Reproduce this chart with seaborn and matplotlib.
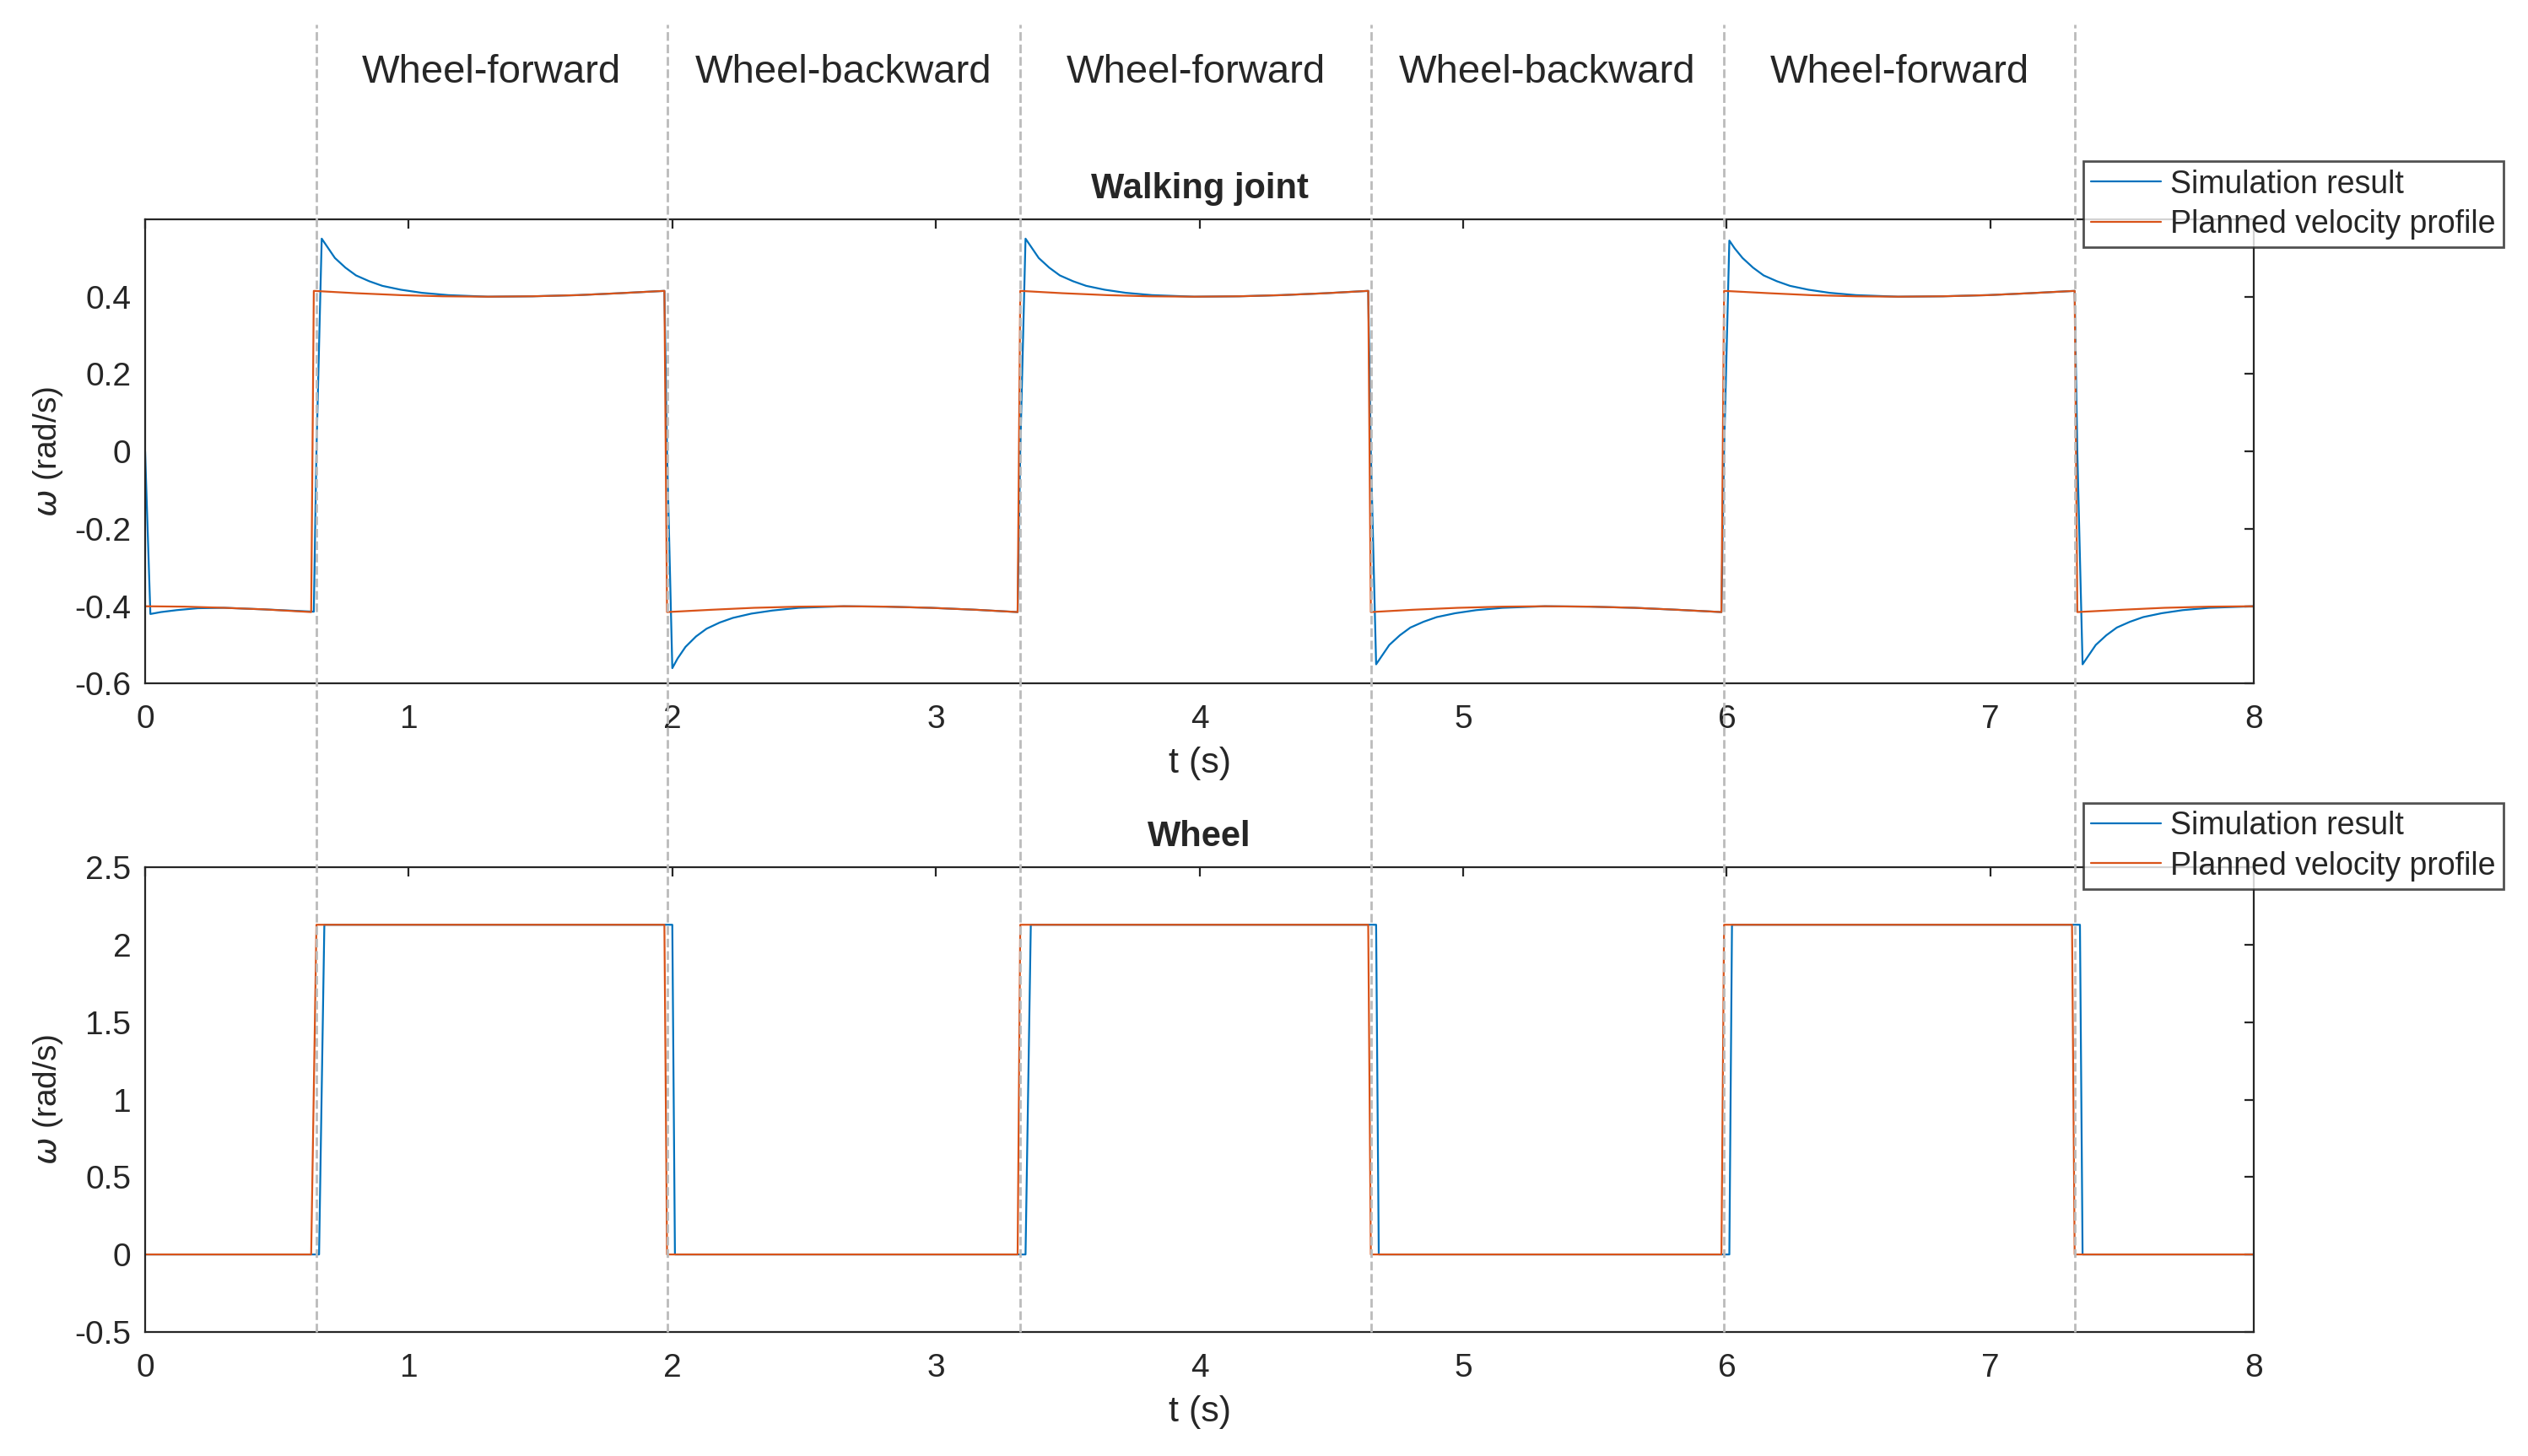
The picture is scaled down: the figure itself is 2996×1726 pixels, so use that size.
import matplotlib
matplotlib.use("Agg")
import matplotlib.pyplot as plt
import seaborn as sns

sns.set_style("white")
plt.rcParams['font.family'] = ['Liberation Sans', 'DejaVu Sans']

switch_times = [0.65, 1.98, 3.32, 4.65, 5.99, 7.32]
phase_labels = ["Wheel-forward", "Wheel-backward", "Wheel-forward", "Wheel-backward", "Wheel-forward"]

# Walking joint, planned profile
walk_plan_t = [0, 0.15, 0.3, 0.45, 0.63, 0.64, 0.8, 0.97, 1.13, 1.3, 1.47, 1.64, 1.8, 1.97, 1.98, 2.15, 2.31, 2.48, 2.65, 2.81, 2.98, 3.15, 3.31, 3.32, 3.48, 3.65, 3.81, 3.98, 4.15, 4.31, 4.48, 4.64, 4.65, 4.81, 4.98, 5.15, 5.31, 5.48, 5.65, 5.81, 5.98, 5.99, 6.16, 6.32, 6.49, 6.65, 6.82, 6.99, 7.15, 7.32, 7.33, 7.5, 7.66, 7.83, 8.0]
walk_plan_v = [-0.40, -0.401, -0.404, -0.408, -0.415, 0.415, 0.409, 0.404, 0.401, 0.40, 0.401, 0.404, 0.409, 0.415, -0.415, -0.409, -0.404, -0.401, -0.40, -0.401, -0.404, -0.409, -0.415, 0.415, 0.409, 0.404, 0.401, 0.40, 0.401, 0.404, 0.409, 0.415, -0.415, -0.409, -0.404, -0.401, -0.40, -0.401, -0.404, -0.409, -0.415, 0.415, 0.409, 0.404, 0.401, 0.40, 0.401, 0.404, 0.409, 0.415, -0.415, -0.409, -0.404, -0.401, -0.40]
# Walking joint, simulation (overshoot decays sampled by eye)
walk_sim_t = [0, 0.02, 0.06, 0.12, 0.2, 0.3, 0.45, 0.64, 0.65, 0.67, 0.69, 0.72, 0.76, 0.8, 0.85, 0.9, 0.97, 1.05, 1.15, 1.3, 1.47, 1.64, 1.8, 1.97, 1.98, 2.0, 2.02, 2.05, 2.09, 2.13, 2.18, 2.23, 2.3, 2.38, 2.48, 2.65, 2.81, 2.98, 3.15, 3.31, 3.32, 3.34, 3.36, 3.39, 3.43, 3.47, 3.52, 3.57, 3.64, 3.72, 3.82, 3.98, 4.15, 4.31, 4.48, 4.64, 4.65, 4.67, 4.69, 4.72, 4.76, 4.8, 4.85, 4.9, 4.97, 5.05, 5.15, 5.31, 5.48, 5.65, 5.81, 5.98, 5.99, 6.01, 6.03, 6.06, 6.10, 6.14, 6.19, 6.24, 6.31, 6.39, 6.49, 6.65, 6.82, 6.99, 7.15, 7.32, 7.33, 7.35, 7.37, 7.40, 7.44, 7.48, 7.53, 7.58, 7.65, 7.73, 7.83, 8.0]
walk_sim_v = [0.0, -0.42, -0.415, -0.41, -0.405, -0.404, -0.408, -0.414, 0.0, 0.55, 0.53, 0.50, 0.475, 0.455, 0.44, 0.428, 0.418, 0.41, 0.404, 0.40, 0.401, 0.404, 0.409, 0.415, 0.0, -0.56, -0.535, -0.505, -0.478, -0.458, -0.442, -0.43, -0.419, -0.411, -0.404, -0.40, -0.401, -0.404, -0.409, -0.415, 0.0, 0.55, 0.53, 0.50, 0.475, 0.455, 0.44, 0.428, 0.418, 0.41, 0.404, 0.40, 0.401, 0.404, 0.409, 0.415, 0.0, -0.55, -0.53, -0.50, -0.475, -0.455, -0.44, -0.428, -0.418, -0.41, -0.404, -0.40, -0.401, -0.404, -0.409, -0.415, 0.0, 0.545, 0.525, 0.50, 0.475, 0.455, 0.44, 0.428, 0.418, 0.41, 0.404, 0.40, 0.401, 0.404, 0.409, 0.415, 0.0, -0.55, -0.53, -0.50, -0.475, -0.455, -0.44, -0.428, -0.418, -0.41, -0.404, -0.40]

# Wheel
wheel_plan_t = [0, 0.63, 0.65, 1.97, 1.98, 3.31, 3.32, 4.64, 4.65, 5.98, 5.99, 7.31, 7.32, 8.0]
wheel_plan_v = [0, 0, 2.13, 2.13, 0, 0, 2.13, 2.13, 0, 0, 2.13, 2.13, 0, 0]
wheel_sim_t = [0, 0.66, 0.68, 2.0, 2.01, 3.34, 3.36, 4.67, 4.68, 6.01, 6.02, 7.34, 7.35, 8.0]
wheel_sim_v = [0, 0, 2.13, 2.13, 0, 0, 2.13, 2.13, 0, 0, 2.13, 2.13, 0, 0]

blue, orange = "#0072BD", "#D95319"
fig = plt.figure(figsize=(14.98, 8.63), dpi=200)
W, H = 1568, 903
axes = [fig.add_axes([90/W, 1-424/H, 1308/W, 288/H]), fig.add_axes([90/W, 1-826/H, 1308/W, 288/H])]
sets = [(walk_sim_t, walk_sim_v, walk_plan_t, walk_plan_v, "Walking joint", (-0.6, 0.6), [-0.6, -0.4, -0.2, 0, 0.2, 0.4], ["-0.6", "-0.4", "-0.2", "0", "0.2", "0.4"], 100),
        (wheel_sim_t, wheel_sim_v, wheel_plan_t, wheel_plan_v, "Wheel", (-0.5, 2.5), [-0.5, 0, 0.5, 1, 1.5, 2, 2.5], ["-0.5", "0", "0.5", "1", "1.5", "2", "2.5"], 498)]
for ax, (st, sv, pt, pv, title, yl, yt, ytl, legy) in zip(axes, sets):
    sns.lineplot(x=st, y=sv, ax=ax, color=blue, lw=0.8, sort=False, estimator=None, label="Simulation result")
    sns.lineplot(x=pt, y=pv, ax=ax, color=orange, lw=0.8, sort=False, estimator=None, label="Planned velocity profile")
    ax.set_xlim(0, 8); ax.set_ylim(*yl)
    ax.set_yticks(yt); ax.set_yticklabels(ytl)
    ax.set_xticks(range(9))
    ax.tick_params(labelsize=14, colors="#262626", direction="in", length=4, top=True, right=True)
    ax.tick_params(axis="x", pad=9)
    ax.tick_params(axis="y", pad=6)
    for s in ax.spines.values():
        s.set_color("#262626"); s.set_linewidth(0.8)
    ax.set_xlabel("t (s)", fontsize=15.5, color="#262626", labelpad=5)
    ax.set_ylabel(r"$\omega$ (rad/s)", fontsize=14, color="#262626", labelpad=4)
    ax.set_title(title, fontsize=15, fontweight="bold", pad=9)
    ax.legend(loc="upper left", bbox_to_anchor=(1292/W, 1-legy/H), bbox_transform=fig.transFigure,
              fontsize=13.5, frameon=True, fancybox=False, edgecolor="#262626", borderpad=0.25,
              handlelength=2.2, labelspacing=0.3, borderaxespad=0, handletextpad=0.3)

# dashed phase lines across figure
for t in switch_times:
    xf = (90 + t/8*1308)/W
    fig.add_artist(plt.Line2D([xf, xf], [1-826/H, 1-15/H], transform=fig.transFigure, color="#BBBBBB", ls="--", lw=1.0))
for i, lab in enumerate(phase_labels):
    xm = (switch_times[i] + switch_times[i+1]) / 2
    fig.text((90 + xm/8*1308)/W, 1-45/H, lab, ha="center", va="center", fontsize=17)

fig.savefig("out.png", dpi=200)
